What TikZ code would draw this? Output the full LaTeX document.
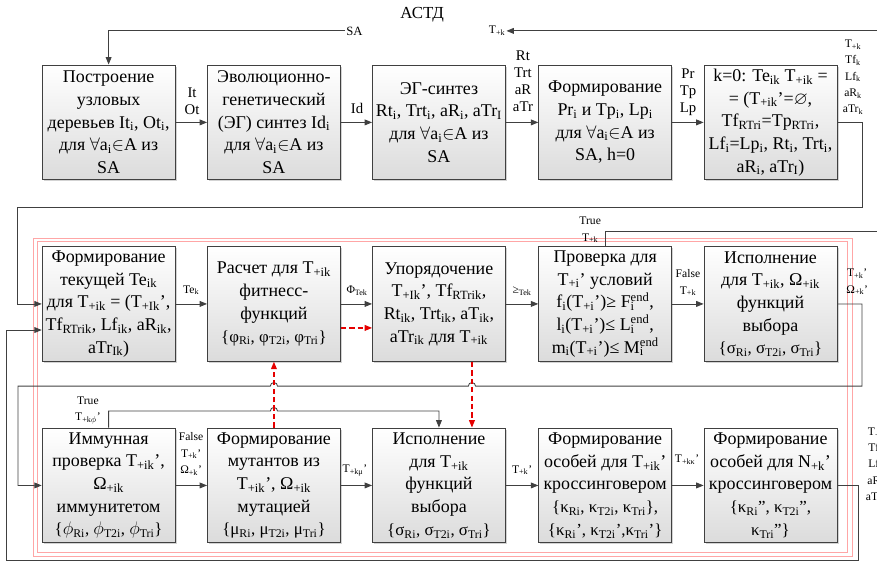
\documentclass[tikz,border=0pt]{standalone}
\usepackage{amsmath}
\usepackage{amssymb}
\usepackage{fontspec}
\setmainfont{Liberation Serif}
\usepackage{tikz}
\usetikzlibrary{positioning, arrows.meta, shadows}

\newcommand{\ix}[1]{\textsubscript{#1}}
\newcommand{\ux}[1]{\textsuperscript{#1}}
\newcommand{\gset}[1]{{\fontsize{16}{21.5}\selectfont #1}}

\begin{document}
\begin{tikzpicture}[
  box/.style={draw=black!75, line width=0.8pt, top color=white, bottom color=black!14,
    minimum width=4.43cm, minimum height=3.83cm, align=center, inner sep=1pt,
    font=\fontsize{17}{21.5}\selectfont,
    drop shadow={opacity=0.35, shadow xshift=1.5pt, shadow yshift=-1.5pt}},
  lbl/.style={font=\fontsize{11}{15.5}\selectfont, align=center, inner sep=1pt},
  lblb/.style={font=\fontsize{14}{16}\selectfont, align=center, inner sep=1pt},
  arr/.style={-{Triangle[length=7pt,width=5.5pt]}, draw=black!75, line width=0.8pt},
  redarr/.style={-{Triangle[length=7pt,width=5.5pt]}, draw=red!90!black, dash pattern=on 5pt off 3pt, line width=1.1pt},
  frame/.style={draw=red!35, line width=0.6pt}]
\useasboundingbox (0,0) rectangle (29.23,18.8);

% Red frame round the cycle
\draw[frame] (1.1,0.27) rectangle (28.4,10.87);
\draw[frame] (1.23,0.4) rectangle (28.23,10.77);

% Top row
\node[box] (tree) at (3.62,14.72) {Построение\\узловых\\деревьев It\ix{i}, Ot\ix{i},\\для $\forall$a\ix{i}$\in$A из\\SA};
\node[box] (evol) at (9.13,14.72) {Эволюционно-\\генетический\\(ЭГ) синтез Id\ix{i}\\для $\forall$a\ix{i}$\in$A из\\SA};
\node[box] (egs) at (14.63,14.72) {ЭГ-синтез\\Rt\ix{i}, Trt\ix{i}, aR\ix{i}, aTr\ix{I}\\для $\forall$a\ix{i}$\in$A из\\SA};
\node[box] (form) at (20.17,14.72) {Формирование\\Pr\ix{i} и Tp\ix{i}, Lp\ix{i}\\для $\forall$a\ix{i}$\in$A из\\SA, h=0};
\node[box] (init) at (25.68,14.72) {k=0: Te\ix{ik} T\ix{+ik} =\\= (T\ix{+ik}'=$\varnothing$,\\Tf\ix{RTri}=Tp\ix{RTri},\\Lf\ix{i}=Lp\ix{i}, Rt\ix{i}, Trt\ix{i},\\aR\ix{i}, aTr\ix{I})};

% Middle row
\node[box] (cur) at (3.62,8.67) {Формирование\\текущей Te\ix{ik}\\для T\ix{+ik} = (T\ix{+Ik}',\\Tf\ix{RTrik}, Lf\ix{ik}, aR\ix{ik},\\aTr\ix{Ik})};
\node[box] (fit) at (9.13,8.67) {Расчет для T\ix{+ik}\\фитнесс-\\функций\\\gset{\{φ\ix{Ri}, φ\ix{T2i}, φ\ix{Tri}\}}};
\node[box] (ord) at (14.63,8.67) {Упорядочение\\T\ix{+Ik}', Tf\ix{RTrik},\\Rt\ix{ik}, Trt\ix{ik}, aT\ix{ik},\\aTr\ix{ik} для T\ix{+ik}};
\node[box] (chk) at (20.17,8.67) {Проверка для\\T\ix{+i}' условий\\f\ix{i}(T\ix{+i}')≥ F\rlap{\ix{i}}\ux{end},\\l\ix{i}(T\ix{+i}')≤ L\rlap{\ix{i}}\ux{end},\\m\ix{i}(T\ix{+i}')≤ M\rlap{\ix{i}}\ux{end}};
\node[box] (sel) at (25.68,8.67) {Исполнение\\для T\ix{+ik}, Ω\ix{+ik}\\функций\\выбора\\\gset{\{σ\ix{Ri}, σ\ix{T2i}, σ\ix{Tri}\}}};

% Bottom row
\node[box] (imm) at (3.62,2.62) {Иммунная\\проверка T\ix{+ik}',\\Ω\ix{+ik}\\иммунитетом\\\gset{\{$\phi$\ix{Ri}, $\phi$\ix{T2i}, $\phi$\ix{Tri}\}}};
\node[box] (mut) at (9.13,2.62) {Формирование\\мутантов из\\T\ix{+ik}', Ω\ix{+ik}\\мутацией\\\gset{\{μ\ix{Ri}, μ\ix{T2i}, μ\ix{Tri}\}}};
\node[box] (exe) at (14.63,2.62) {Исполнение\\для T\ix{+ik}\\функций\\выбора\\\gset{\{σ\ix{Ri}, σ\ix{T2i}, σ\ix{Tri}\}}};
\node[box] (crs) at (20.17,2.62) {Формирование\\особей для T\ix{+ik}'\\кроссинговером\\\gset{\{κ\ix{Ri}, κ\ix{T2i}, κ\ix{Tri}\},}\\\gset{\{κ\ix{Ri}', κ\ix{T2i}',κ\ix{Tri}'\}}};
\node[box] (crsN) at (25.68,2.62) {Формирование\\особей для N\ix{+k}'\\кроссинговером\\\gset{\{κ\ix{Ri}'', κ\ix{T2i}'',}\\\gset{κ\ix{Tri}''\}}};

% АСТД feedback
\node[font=\fontsize{16}{18}\selectfont] (astd) at (14.07,18.3) {АСТД};
\node[lblb, anchor=west, font=\fontsize{12}{14}\selectfont] (sa) at (11.5,17.77) {SA};
\node[lbl, anchor=east] (tk) at (16.88,17.77) {T\ix{+k}};
\draw[arr] (sa.west) -| (tree.north);

% Top row arrows
\draw[arr] (tree.east) -- (evol.west);
\draw[arr] (evol.east) -- (egs.west);
\draw[arr] (egs.east) -- (form.west);
\draw[arr] (form.east) -- (init.west);
\node[lblb] (lIt) at (6.4,15.43) {It\\Ot};
\node[lblb] (lId) at (11.9,15.2) {Id};
\node[lblb] (lRt) at (17.43,16.1) {Rt\\Trt\\aR\\aTr};
\node[lblb] (lPr) at (22.93,15.73) {Pr\\Tp\\Lp};
\node[lbl] (lTk) at (28.43,16.23) {T\ix{+k}\\Tf\ix{k}\\Lf\ix{k}\\aR\ix{k}\\aTr\ix{k}};
\draw[arr] (init.east) -| (28.73,11.87) -| (0.57,8.67) -- (cur.west);

% Middle row arrows
\draw[arr] (cur.east) -- (fit.west);
\draw[arr] (fit.east) -- (ord.west);
\draw[arr] (ord.east) -- (chk.west);
\draw[arr] (chk.east) -- (sel.west);
\node[lbl] (lTe) at (6.37,9.13) {Te\ix{k}};
\node[lbl] (lPhi) at (11.9,9.1) {Φ\ix{Tek}};
\node[lbl] (lGe) at (17.4,9.1) {≥\ix{Tek}};
\node[lbl] (lFalse) at (22.93,9.37) {False\\T\ix{+k}};
\node[lbl] (lTrue) at (19.67,11.13) {True\\T\ix{+k}};
\node[lbl] (lOm) at (28.57,9.4) {T\ix{+k}'\\Ω\ix{+k}'};
\draw[arr] (chk.north) |- (29.6,11.07) |- (tk.east);
\draw[arr] (sel.east) -| (28.73,5.93) -- (15.85,5.93) arc[start angle=0, end angle=180, radius=0.12]
  -- (9.25,5.93) arc[start angle=0, end angle=180, radius=0.12] -- (0.6,5.93) |- (imm.west);

% Bottom row arrows
\draw[arr] (imm.east) -- (mut.west);
\draw[arr] (mut.east) -- (exe.west);
\draw[arr] (exe.east) -- (crs.west);
\draw[arr] (crs.east) -- (crsN.west);
\node[lbl] (lImm) at (2.93,5.13) {True\\T\ix{+k$\phi$}'};
\node[lbl] (lFalse2) at (6.37,3.67) {False\\T\ix{+k}'\\Ω\ix{+k}'};
\node[lbl] (lMu) at (11.83,3.13) {T\ix{+kμ}'};
\node[lbl] (lTk2) at (17.4,3.13) {T\ix{+k}'};
\node[lbl] (lKa) at (22.9,3.47) {T\ix{+kκ}'};
\node[lbl] (lCut) at (29.2,3.3) {T\ix{+k}\\Tf\ix{k}\\Lf\ix{k}\\aR\ix{k}\\aTr\ix{k}};
\draw[arr] (imm.north) |- (9.01,5.1) arc[start angle=180, end angle=0, radius=0.12] -| (exe.north);
\draw[arr] (crsN.east) -| (28.6,0.13) -| (0.23,7.8) -- ([yshift=-0.87cm]cur.west);

% Red dashed links
\draw[redarr] (mut.north) -- (fit.south);
\draw[redarr] ([xshift=1.1cm]ord.south) -- ([xshift=1.1cm]exe.north);
\draw[redarr] ([yshift=-0.8cm]fit.east) -- ([yshift=-0.8cm]ord.west);
\end{tikzpicture}
\end{document}
